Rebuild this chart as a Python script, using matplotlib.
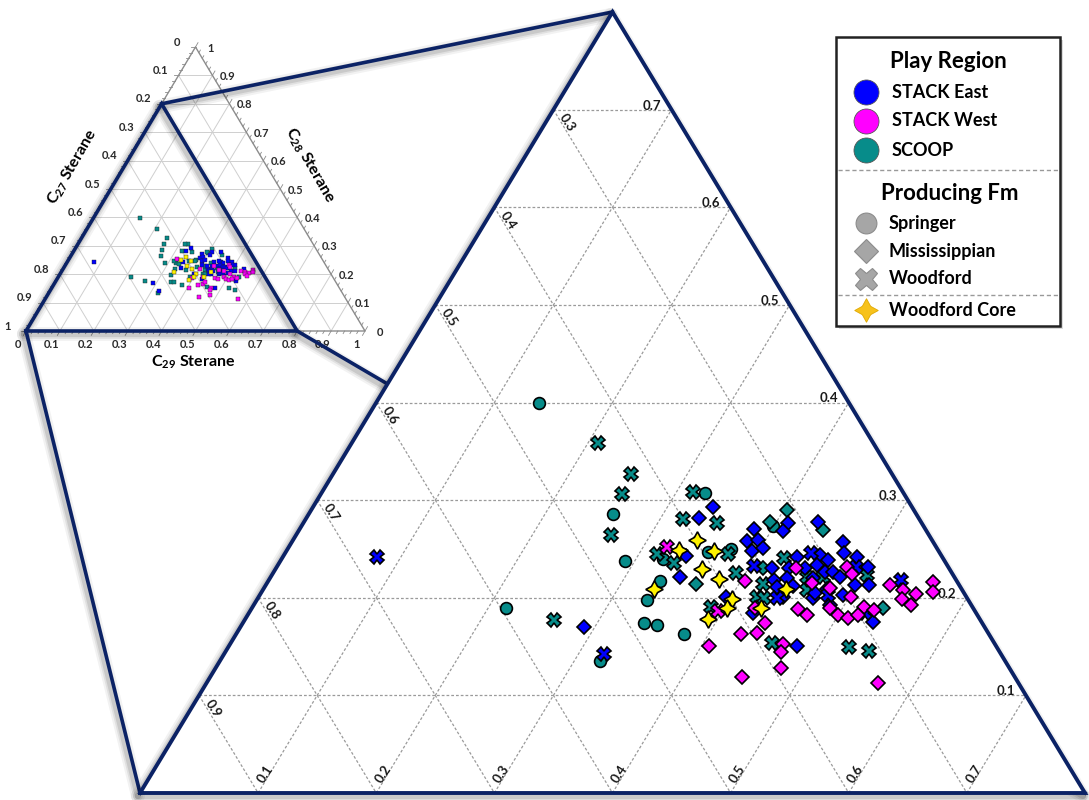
import numpy as np
import matplotlib
matplotlib.use("Agg")
import matplotlib.pyplot as plt
from matplotlib.patches import Polygon, Rectangle

plt.rcParams['font.family'] = ['Lato', 'DejaVu Sans']
plt.rcParams['mathtext.fontset'] = 'custom'
plt.rcParams['mathtext.bf'] = 'Lato:bold'
plt.rcParams['mathtext.rm'] = 'Lato:bold'

# Sterane fractions (C27 = 1 - C28 - C29)
scoop_o_c29 = [0.138, 0.257, 0.325, 0.292, 0.323, 0.357, 0.375, 0.332, 0.330, 0.215, 0.340, 0.352, 0.379, 0.322, 0.399]
scoop_o_c28 = [0.399, 0.286, 0.307, 0.238, 0.240, 0.247, 0.250, 0.217, 0.198, 0.190, 0.174, 0.172, 0.163, 0.135, 0.273]

scoop_x_c29 = [0.208, 0.252, 0.255, 0.267, 0.314, 0.319, 0.350, 0.315, 0.334, 0.375, 0.392, 0.388, 0.262, 0.458,
               0.420, 0.422, 0.428, 0.425, 0.454, 0.468, 0.461, 0.504, 0.525, 0.545]
scoop_x_c28 = [0.359, 0.327, 0.306, 0.264, 0.308, 0.281, 0.277, 0.245, 0.236, 0.245, 0.225, 0.191, 0.177, 0.154,
               0.214, 0.201, 0.200, 0.241, 0.221, 0.221, 0.208, 0.223, 0.150, 0.145]

scoop_d_c29 = [0.364, 0.403, 0.394, 0.444, 0.412, 0.534]
scoop_d_c28 = [0.214, 0.290, 0.278, 0.269, 0.230, 0.190]

east_d_c29 = [0.339, 0.332, 0.341, 0.347, 0.291, 0.396, 0.385, 0.385, 0.394, 0.394, 0.402, 0.410, 0.410, 0.435,
              0.467, 0.473, 0.486, 0.435, 0.454, 0.463, 0.434, 0.448, 0.456, 0.467, 0.474, 0.501, 0.428, 0.438,
              0.460, 0.482, 0.499, 0.511, 0.477, 0.494, 0.444, 0.470, 0.427, 0.481, 0.533, 0.420, 0.434, 0.447,
              0.469, 0.488]
east_d_c28 = [0.293, 0.282, 0.243, 0.221, 0.170, 0.201, 0.270, 0.258, 0.259, 0.248, 0.251, 0.277, 0.268, 0.278,
              0.257, 0.246, 0.242, 0.242, 0.244, 0.239, 0.230, 0.230, 0.234, 0.226, 0.226, 0.231, 0.218, 0.220,
              0.220, 0.221, 0.213, 0.213, 0.209, 0.203, 0.201, 0.200, 0.184, 0.151, 0.175, 0.230, 0.211, 0.212,
              0.205, 0.193]

east_x_c29 = [0.080, 0.322, 0.403, 0.445, 0.439, 0.481, 0.522, 0.535, 0.491]
east_x_c28 = [0.242, 0.142, 0.233, 0.246, 0.200, 0.203, 0.184, 0.218, 0.231]

west_d_c29 = [0.404, 0.427, 0.440, 0.442, 0.406, 0.450, 0.440, 0.483, 0.491, 0.461, 0.501, 0.528, 0.542, 0.555,
              0.546, 0.556, 0.563, 0.568, 0.463, 0.474, 0.489, 0.500, 0.510, 0.517, 0.528, 0.426, 0.479, 0.568,
              0.468, 0.471, 0.517, 0.479]
west_d_c28 = [0.217, 0.163, 0.164, 0.174, 0.151, 0.119, 0.230, 0.231, 0.224, 0.215, 0.201, 0.213, 0.208, 0.204,
              0.199, 0.193, 0.216, 0.206, 0.188, 0.182, 0.190, 0.182, 0.179, 0.191, 0.187, 0.190, 0.128, 0.113,
              0.153, 0.144, 0.182, 0.210]

west_x_c29 = [0.320, 0.396]
west_x_c28 = [0.252, 0.186]

core_c29 = [0.342, 0.332, 0.362, 0.361, 0.381, 0.331, 0.402, 0.402, 0.392, 0.431, 0.442]
core_c28 = [0.259, 0.249, 0.248, 0.229, 0.219, 0.209, 0.199, 0.190, 0.178, 0.190, 0.209]

region_names = ['STACK East', 'STACK West', 'SCOOP']
fm_names = ['Springer', 'Mississippian', 'Woodford']

BLUE = '#0000FF'
MAGENTA = '#FF00FF'
TEAL = '#078C8A'
YELLOW = '#FFF200'
NAVY = '#0B2265'
STAR = (4, 1, 0)

# drawing order: (c29, c28, marker, colour, size)
series = [
    (scoop_o_c29, scoop_o_c28, 'o', TEAL, 8.5),
    (scoop_x_c29, scoop_x_c28, 'X', TEAL, 10),
    (scoop_d_c29, scoop_d_c28, 'D', TEAL, 7.6),
    (east_d_c29, east_d_c28, 'D', BLUE, 7.6),
    (east_x_c29, east_x_c28, 'X', BLUE, 10),
    (west_d_c29, west_d_c28, 'D', MAGENTA, 7.6),
    (west_x_c29, west_x_c28, 'X', MAGENTA, 10),
    (core_c29, core_c28, STAR, YELLOW, 12.5),
]


def big_xy(c29, c28):
    """Zoomed triangle (C27 from 0.2 to 1) in figure pixels"""
    c29 = np.asarray(c29, float)
    c28 = np.asarray(c28, float)
    return 140 + (c29 + c28 / 2) * 1181.25, 793 - c28 * 976.25


def ins_xy(c29, c28):
    """Full ternary inset in figure pixels"""
    c29 = np.asarray(c29, float)
    c28 = np.asarray(c28, float)
    return 26 + (c29 + c28 / 2) * 339, 331 - c28 * 284


def shadow_line(ax, xs, ys, z):
    xs = np.asarray(xs) - 2
    ys = np.asarray(ys) + 3
    for w, a in [(10, .05), (7, .07), (4.5, .10)]:
        ax.plot(xs, ys, color='k', lw=w, alpha=a, solid_capstyle='round', zorder=z)


fig = plt.figure(figsize=(10.89, 8.0), dpi=100)
ax = fig.add_axes([0, 0, 1, 1])
ax.set_xlim(0, 1089)
ax.set_ylim(800, 0)
ax.axis('off')

# ---------------- inset (full ternary) ----------------
for v in np.arange(1, 10) / 10:
    ax.plot(*ins_xy([0, 1 - v], [v, v]), color='#CFCFCF', lw=0.7, zorder=1)
    ax.plot(*ins_xy([v, v], [0, 1 - v]), color='#CFCFCF', lw=0.7, zorder=1)
    ax.plot(*ins_xy([0, v], [v, 0]), color='#CFCFCF', lw=0.7, zorder=1)
ax.plot(*ins_xy([0, 1, 0, 0], [0, 0, 1, 0]), color='#8C8C8C', lw=1.0, zorder=1)

for t in np.arange(0, 51) / 50:
    L = 5 if round(t * 50) % 5 == 0 else 3
    x, y = ins_xy(t, 0)
    ax.plot([x, x - L * 0.5], [y, y + L * 0.87], color='#8C8C8C', lw=0.6, zorder=1)
    x, y = ins_xy(0, t)
    ax.plot([x, x - L], [y, y], color='#8C8C8C', lw=0.6, zorder=1)
    x, y = ins_xy(1 - t, t)
    ax.plot([x, x + L * 0.5], [y, y - L * 0.87], color='#8C8C8C', lw=0.6, zorder=1)

ins_kw = dict(fontsize=8, fontweight='bold', color='#2A2A2A', ha='center', va='center', zorder=3)
for v in np.arange(0, 11) / 10:
    lab = '0' if v == 0 else ('1' if v == 1 else f'{v:.1f}')
    x, y = ins_xy(0, 1 - v)
    ax.text(x - 18, y - 5, lab, **ins_kw)
    x, y = ins_xy(1 - v, v)
    ax.text(x + 15, y + 1, lab, **ins_kw)
    x, y = ins_xy(v, 0)
    ax.text(x - 8, y + 14, lab, **ins_kw)

ax.text(72, 167, r'C$_{\mathbf{27}}$ Sterane', fontsize=11.5, fontweight='bold', rotation=60,
        ha='center', va='center', zorder=3)
ax.text(310, 165, r'C$_{\mathbf{28}}$ Sterane', fontsize=11.5, fontweight='bold', rotation=-60,
        ha='center', va='center', zorder=3)
ax.text(193, 362, r'C$_{\mathbf{29}}$ Sterane', fontsize=11.5, fontweight='bold',
        ha='center', va='center', zorder=3)

for c29, c28, mk, col, ms in series:
    ax.plot(*ins_xy(c29, c28), ls='none', marker='s', ms=2.8, mfc=col, mec='#222222', mew=0.3, zorder=4)

# ---------------- zoom connectors ----------------
sub_c29 = [0, 0.8, 0]
sub_c28 = [0, 0, 0.8]
sx, sy = ins_xy(sub_c29, sub_c28)
bx, by = big_xy(sub_c29, sub_c28)
for i in range(3):
    shadow_line(ax, [sx[i], bx[i]], [sy[i], by[i]], 4.5)
    ax.plot([sx[i], bx[i]], [sy[i], by[i]], color=NAVY, lw=2.6, zorder=5)
shadow_line(ax, list(sx) + [sx[0]], list(sy) + [sy[0]], 4.5)
ax.plot(list(sx) + [sx[0]], list(sy) + [sy[0]], color=NAVY, lw=2.6, zorder=5, solid_joinstyle='miter')

# ---------------- main triangle ----------------
shadow_line(ax, list(bx) + [bx[0]], list(by) + [by[0]], 5.5)
ax.add_patch(Polygon(np.column_stack([bx, by]), closed=True, fc='white', ec='none', zorder=6))
ax.plot(list(bx) + [bx[0]], list(by) + [by[0]], color=NAVY, lw=2.8, zorder=9, solid_joinstyle='miter')

grid_kw = dict(color='#9A9A9A', lw=0.9, ls=(0, (2.2, 1.6)), zorder=7)
lab_kw = dict(fontsize=9.5, fontweight='bold', color='#1A1A1A', ha='center', va='center', zorder=8)
for v in np.arange(1, 8) / 10:
    ax.plot(*big_xy([0, 0.8 - v], [v, v]), **grid_kw)   # constant C28
    ax.plot(*big_xy([v, v], [0, 0.8 - v]), **grid_kw)   # constant C29
    ax.plot(*big_xy([0, v], [v, 0]), **grid_kw)         # constant C27
    x, y = big_xy(0, v)
    ax.text(x + 14, y + 13, f'{1 - v:.1f}', rotation=-57, **lab_kw)
    x, y = big_xy(0.8 - v, v)
    ax.text(x - 20, y - 4, f'{v:.1f}', **lab_kw)
    x, y = big_xy(v, 0)
    ax.text(x + 7, y - 19, f'{v:.1f}', rotation=57, **lab_kw)

for c29, c28, mk, col, ms in series:
    ax.plot(*big_xy(c29, c28), ls='none', marker=mk, ms=ms, mfc=col, mec='black', mew=1.2, zorder=10)

# ---------------- legend ----------------
ax.add_patch(Rectangle((839, 40), 224, 289, fc='#BBBBBB', ec='none', alpha=0.5, zorder=10))
ax.add_patch(Rectangle((836, 37), 224, 289, fc='white', ec='#222222', lw=1.8, zorder=11))
ax.text(948, 61, 'Play Region', fontsize=16, fontweight='bold', ha='center', va='center', zorder=12)
for i, (nm, col) in enumerate(zip(region_names, [BLUE, MAGENTA, TEAL])):
    y = 92 + i * 29
    ax.plot(866, y, marker='o', ms=18, mfc=col, mec='#555555', mew=0.6, zorder=12)
    ax.text(892, y, nm, fontsize=13, fontweight='bold', ha='left', va='center', zorder=12)
ax.plot([838, 1058], [170, 170], color='#999999', lw=1.0, ls=(0, (3, 2)), zorder=12)
ax.text(950, 193, 'Producing Fm', fontsize=16, fontweight='bold', ha='center', va='center', zorder=12)
for i, (nm, mk, ms) in enumerate(zip(fm_names, ['o', 'D', 'X'], [15, 12, 16])):
    y = 223 + i * 28
    ax.plot(866, y, marker=mk, ms=ms, mfc='#A6A6A6', mec='#8C8C8C', mew=0.8, zorder=12)
    ax.text(889, y, nm, fontsize=13, fontweight='bold', ha='left', va='center', zorder=12)
ax.plot([838, 1058], [295, 295], color='#999999', lw=1.0, ls=(0, (3, 2)), zorder=12)
ax.plot(866, 310, marker=STAR, ms=17, mfc='#F7C21B', mec='#E0A800', mew=0.6, zorder=12)
ax.text(889, 310, 'Woodford Core', fontsize=13, fontweight='bold', ha='left', va='center', zorder=12)

fig.savefig('out.png', dpi=100)
